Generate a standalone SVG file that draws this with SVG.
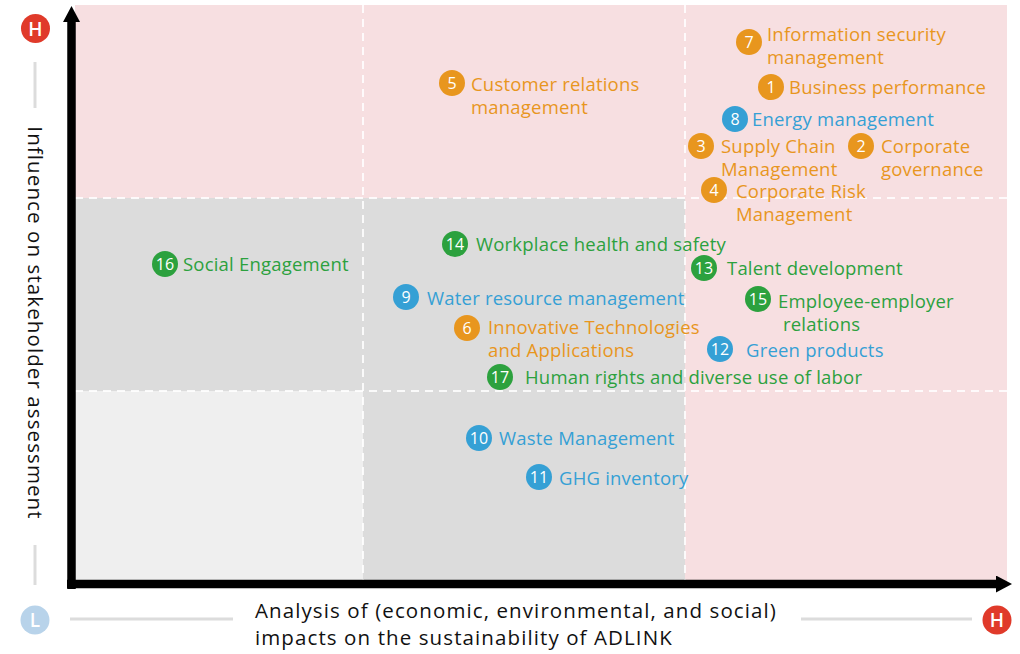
<svg xmlns="http://www.w3.org/2000/svg" width="1020" height="654" viewBox="0 0 1020 654">
<style>
text{font-family:"Open Sans","Noto Sans","DejaVu Sans",sans-serif}
.lbl{font-size:18.5px;letter-spacing:0.2px}
.o{fill:#e8961e}
.b{fill:#35a0d5}
.g{fill:#2ca13e}
.num{font-size:16px;fill:#fff;text-anchor:middle}
.big{font-size:19px;font-weight:600}
.grid{stroke:#fff;stroke-width:2;stroke-dasharray:8,6;fill:none;opacity:0.85}
.guide{stroke:#dcdcdc;stroke-width:3}
.ax{font-size:20.5px;letter-spacing:1.1px;fill:#111}
</style>
<defs>
<marker id="ah" markerWidth="17" markerHeight="18" refX="1" refY="8.5" orient="auto" markerUnits="userSpaceOnUse">
<path d="M0,0 L16,8.5 L0,17 Z" fill="#000"/>
</marker>
</defs>
<g id="background">
<rect x="75" y="5" width="932" height="193" fill="#f7dfe1"/>
<rect x="75" y="198" width="288" height="193" fill="#dcdcdc"/>
<rect x="363" y="198" width="322" height="193" fill="#dcdcdc"/>
<rect x="685" y="198" width="322" height="384" fill="#f7dfe1"/>
<rect x="75" y="391" width="288" height="191" fill="#efefef"/>
<rect x="363" y="391" width="322" height="191" fill="#dcdcdc"/>
<line class="grid" x1="363" y1="5" x2="363" y2="582"/>
<line class="grid" x1="685" y1="5" x2="685" y2="582"/>
<line class="grid" x1="75" y1="198" x2="1007" y2="198"/>
<line class="grid" x1="75" y1="391" x2="1007" y2="391"/>
</g>
<g id="connectors">
<line x1="71.5" y1="589" x2="71.5" y2="21" stroke="#000" stroke-width="8.5" marker-end="url(#ah)"/>
<line x1="67" y1="584" x2="997" y2="584" stroke="#000" stroke-width="8.5" marker-end="url(#ah)"/>
</g>
<g id="y-axis">
<circle cx="35.5" cy="28.5" r="14.5" fill="#e03a2a"/>
<text x="35.5" y="35.5" class="num big">H</text>
<line class="guide" x1="35" y1="62" x2="35" y2="108"/>
<text class="ax" text-anchor="middle" transform="translate(28,323) rotate(90)">Influence on stakeholder assessment</text>
<line class="guide" x1="35" y1="545" x2="35" y2="585"/>
<circle cx="35" cy="620" r="14.5" fill="#b8d3ea"/>
<text x="35" y="627" class="num big">L</text>
</g>
<g id="x-axis">
<line class="guide" x1="70" y1="619" x2="233" y2="619"/>
<text class="ax" x="255" y="618">Analysis of (economic, environmental, and social)</text>
<text class="ax" x="255" y="645">impacts on the sustainability of ADLINK</text>
<line class="guide" x1="801" y1="619" x2="972" y2="619"/>
<circle cx="997" cy="620" r="14.5" fill="#e03a2a"/>
<text x="997" y="627" class="num big">H</text>
</g>
<g id="n7"><circle class="o" cx="749" cy="42" r="13"/><text class="num" x="749" y="47.5">7</text><text class="lbl o" x="767" y="41">Information security<tspan x="767" y="64">management</tspan></text></g>
<g id="n1"><circle class="o" cx="771" cy="87" r="13"/><text class="num" x="771" y="92.5">1</text><text class="lbl o" x="789" y="94">Business performance</text></g>
<g id="n8"><circle class="b" cx="735" cy="119" r="13"/><text class="num" x="735" y="124.5">8</text><text class="lbl b" x="752" y="126">Energy management</text></g>
<g id="n3"><circle class="o" cx="701" cy="146" r="13"/><text class="num" x="701" y="151.5">3</text><text class="lbl o" x="721" y="153">Supply Chain<tspan x="721" y="176">Management</tspan></text></g>
<g id="n2"><circle class="o" cx="861" cy="146" r="13"/><text class="num" x="861" y="151.5">2</text><text class="lbl o" x="881" y="153">Corporate<tspan x="881" y="176">governance</tspan></text></g>
<g id="n4"><circle class="o" cx="714" cy="190" r="13"/><text class="num" x="714" y="195.5">4</text><text class="lbl o" x="736" y="198">Corporate Risk<tspan x="736" y="221">Management</tspan></text></g>
<g id="n5"><circle class="o" cx="452" cy="83" r="13"/><text class="num" x="452" y="88.5">5</text><text class="lbl o" x="471" y="91">Customer relations<tspan x="471" y="114">management</tspan></text></g>
<g id="n14"><circle class="g" cx="455" cy="244" r="13"/><text class="num" x="455" y="249.5">14</text><text class="lbl g" x="476" y="251">Workplace health and safety</text></g>
<g id="n16"><circle class="g" cx="165" cy="264" r="13"/><text class="num" x="165" y="269.5">16</text><text class="lbl g" x="183" y="271">Social Engagement</text></g>
<g id="n13"><circle class="g" cx="704" cy="268" r="13"/><text class="num" x="704" y="273.5">13</text><text class="lbl g" x="727" y="275">Talent development</text></g>
<g id="n9"><circle class="b" cx="406" cy="297" r="13"/><text class="num" x="406" y="302.5">9</text><text class="lbl b" x="427" y="305">Water resource management</text></g>
<g id="n15"><circle class="g" cx="758" cy="299" r="13"/><text class="num" x="758" y="304.5">15</text><text class="lbl g" x="778" y="308">Employee-employer<tspan x="783" y="331">relations</tspan></text></g>
<g id="n6"><circle class="o" cx="467" cy="328" r="13"/><text class="num" x="467" y="333.5">6</text><text class="lbl o" x="488" y="334">Innovative Technologies<tspan x="488" y="357">and Applications</tspan></text></g>
<g id="n12"><circle class="b" cx="720" cy="349" r="13"/><text class="num" x="720" y="354.5">12</text><text class="lbl b" x="746" y="357">Green products</text></g>
<g id="n17"><circle class="g" cx="500" cy="377" r="13"/><text class="num" x="500" y="382.5">17</text><text class="lbl g" x="525" y="384">Human rights and diverse use of labor</text></g>
<g id="n10"><circle class="b" cx="479" cy="438" r="13"/><text class="num" x="479" y="443.5">10</text><text class="lbl b" x="499" y="445">Waste Management</text></g>
<g id="n11"><circle class="b" cx="539" cy="477" r="13"/><text class="num" x="539" y="482.5">11</text><text class="lbl b" x="559" y="485">GHG inventory</text></g>
</svg>
